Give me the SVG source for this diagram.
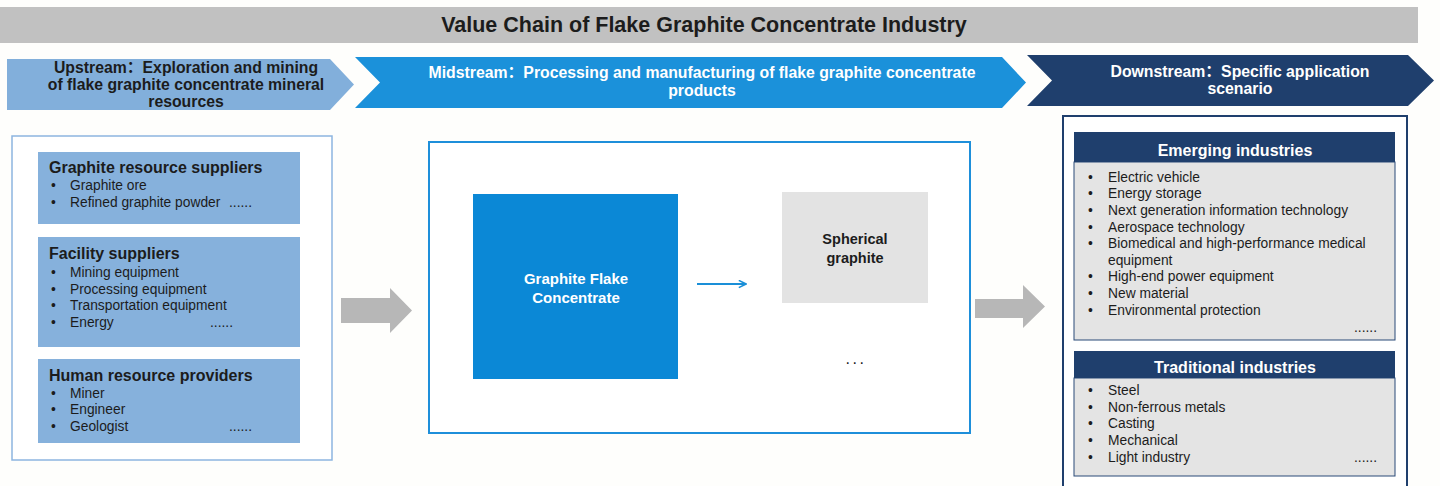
<svg xmlns="http://www.w3.org/2000/svg" width="1440" height="486" viewBox="0 0 1440 486">
<style>
text{font-family:"Liberation Sans",Arial,"Noto Sans CJK SC",sans-serif;}
.b{font-weight:bold;}
.dark{fill:#1c1c1c;}
.white{fill:#ffffff;}
.hdr{font-size:16px;font-weight:bold;fill:#1c1c1c;}
.li{font-size:13.8px;fill:#1c1c1c;}
.chev{font-size:15.8px;font-weight:bold;text-anchor:middle;}
.lbox{fill:#86b1dc;}
.gbody{fill:#e4e4e4;stroke:#2a4a78;stroke-width:1;}
.nav{fill:#1f3f6d;}
.garrow{fill:#b7b7b7;}
</style>
<defs>
<marker id="ah" viewBox="0 0 10 10" refX="9" refY="5" markerWidth="9" markerHeight="9" markerUnits="userSpaceOnUse" orient="auto">
<path d="M1,1 L9,5 L1,9" fill="none" stroke="#1a8fd8" stroke-width="1.8"/>
</marker>
</defs>
<rect width="1440" height="486" fill="#fefefc"/>

<g id="title">
<rect x="0" y="7" width="1418" height="36" fill="#c1c1c1"/>
<text x="704" y="32" class="b dark" font-size="21.5" text-anchor="middle">Value Chain of Flake Graphite Concentrate Industry</text>
</g>

<g id="upstream">
<polygon points="7,59 330,59 354,84.5 330,110 7,110" fill="#82afdb"/>
<text class="chev dark" x="186" y="73">Upstream：Exploration and mining</text>
<text class="chev dark" x="186" y="90">of flake graphite concentrate mineral</text>
<text class="chev dark" x="186" y="107">resources</text>
</g>

<g id="midstream">
<polygon points="355,57 1002,57 1026,82.5 1002,108 355,108 380,82.5" fill="#1b91da"/>
<text class="chev white" x="702" y="78" font-size="16.2">Midstream：Processing and manufacturing of flake graphite concentrate</text>
<text class="chev white" x="702" y="96" font-size="16.2">products</text>
</g>

<g id="downstream">
<polygon points="1027,55 1408,55 1434,80.5 1408,106 1027,106 1052,80.5" fill="#1f3f6d"/>
<text class="chev white" x="1240" y="77">Downstream：Specific application</text>
<text class="chev white" x="1240" y="94">scenario</text>
</g>

<g id="upstream-panel">
<rect x="12" y="136" width="320" height="324" fill="#ffffff" stroke="#8db5e0" stroke-width="1.5"/>
</g>

<g id="graphite-resource-suppliers">
<rect x="38" y="152" width="262" height="72" class="lbox"/>
<text class="hdr" x="49" y="173">Graphite resource suppliers</text>
<text class="li" x="51" y="190">•</text><text class="li" x="70" y="190">Graphite ore</text>
<text class="li" x="51" y="207">•</text><text class="li" x="70" y="207">Refined graphite powder</text>
<text class="li" x="229" y="207">......</text>
</g>

<g id="facility-suppliers">
<rect x="38" y="237" width="262" height="110" class="lbox"/>
<text class="hdr" x="49" y="259">Facility suppliers</text>
<text class="li" x="51" y="277">•</text><text class="li" x="70" y="277">Mining equipment</text>
<text class="li" x="51" y="294">•</text><text class="li" x="70" y="294">Processing equipment</text>
<text class="li" x="51" y="310">•</text><text class="li" x="70" y="310">Transportation equipment</text>
<text class="li" x="51" y="327">•</text><text class="li" x="70" y="327">Energy</text>
<text class="li" x="210" y="327">......</text>
</g>

<g id="human-resource-providers">
<rect x="38" y="359" width="262" height="84" class="lbox"/>
<text class="hdr" x="49" y="381">Human resource providers</text>
<text class="li" x="51" y="398">•</text><text class="li" x="70" y="398">Miner</text>
<text class="li" x="51" y="414">•</text><text class="li" x="70" y="414">Engineer</text>
<text class="li" x="51" y="431">•</text><text class="li" x="70" y="431">Geologist</text>
<text class="li" x="229" y="431">......</text>
</g>

<g id="midstream-panel">
<rect x="429" y="142" width="541" height="291" fill="#ffffff" stroke="#1e8fda" stroke-width="2"/>
</g>

<g id="graphite-flake-concentrate">
<rect x="473" y="194" width="205" height="185" fill="#0b88d6"/>
<text class="b white" font-size="15" text-anchor="middle" x="576" y="284">Graphite Flake</text>
<text class="b white" font-size="15" text-anchor="middle" x="576" y="303">Concentrate</text>
</g>

<g id="spherical-graphite">
<rect x="782" y="192" width="146" height="111" fill="#e3e3e3"/>
<text class="b dark" font-size="14.5" text-anchor="middle" x="855" y="244">Spherical</text>
<text class="b dark" font-size="14.5" text-anchor="middle" x="855" y="263">graphite</text>
</g>

<g id="more-products">
<text class="dark" font-size="16" text-anchor="middle" x="856" y="364" letter-spacing="2.5">...</text>
</g>

<g id="downstream-panel">
<rect x="1063" y="116" width="344" height="380" fill="#ffffff" stroke="#1f3f6d" stroke-width="2"/>
</g>

<g id="emerging-industries">
<rect x="1074" y="162" width="321" height="178" class="gbody"/>
<rect x="1074" y="132" width="321" height="30" class="nav"/>
<text class="b white" font-size="16" text-anchor="middle" x="1235" y="156">Emerging industries</text>
<text class="li" x="1088" y="182">•</text><text class="li" x="1108" y="182">Electric vehicle</text>
<text class="li" x="1088" y="198">•</text><text class="li" x="1108" y="198">Energy storage</text>
<text class="li" x="1088" y="215">•</text><text class="li" x="1108" y="215">Next generation information technology</text>
<text class="li" x="1088" y="232">•</text><text class="li" x="1108" y="232">Aerospace technology</text>
<text class="li" x="1088" y="248">•</text><text class="li" x="1108" y="248">Biomedical and high-performance medical</text>
<text class="li" x="1108" y="265">equipment</text>
<text class="li" x="1088" y="281">•</text><text class="li" x="1108" y="281">High-end power equipment</text>
<text class="li" x="1088" y="298">•</text><text class="li" x="1108" y="298">New material</text>
<text class="li" x="1088" y="315">•</text><text class="li" x="1108" y="315">Environmental protection</text>
<text class="li" x="1354" y="332" font-size="11" fill="#555">......</text>
</g>

<g id="traditional-industries">
<rect x="1074" y="378" width="321" height="98" class="gbody"/>
<rect x="1074" y="351" width="321" height="27" class="nav"/>
<text class="b white" font-size="16" text-anchor="middle" x="1235" y="373">Traditional industries</text>
<text class="li" x="1088" y="395">•</text><text class="li" x="1108" y="395">Steel</text>
<text class="li" x="1088" y="412">•</text><text class="li" x="1108" y="412">Non-ferrous metals</text>
<text class="li" x="1088" y="428">•</text><text class="li" x="1108" y="428">Casting</text>
<text class="li" x="1088" y="445">•</text><text class="li" x="1108" y="445">Mechanical</text>
<text class="li" x="1088" y="462">•</text><text class="li" x="1108" y="462">Light industry</text>
<text class="li" x="1354" y="462" font-size="11" fill="#555">......</text>
</g>

<g id="connectors">
<polygon class="garrow" points="341,298 390,298 390,288 412,310.5 390,333 390,323 341,323"/>
<polygon class="garrow" points="975,299 1023,299 1023,285 1045,306.5 1023,328 1023,318 975,318"/>
<line x1="697" y1="284" x2="746" y2="284" stroke="#1a8fd8" stroke-width="1.8" marker-end="url(#ah)"/>
</g>
</svg>
